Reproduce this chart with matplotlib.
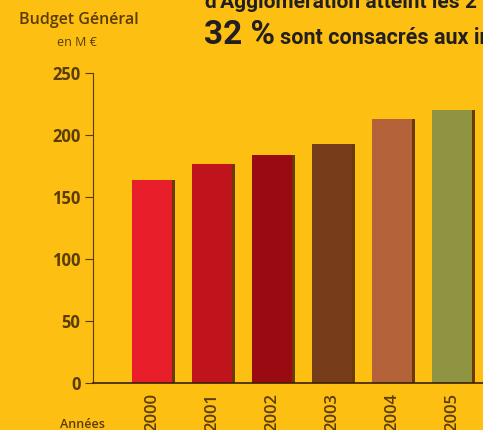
import matplotlib.pyplot as plt
import numpy as np

# budget general, en millions d'euros
years = ["2000", "2001", "2002", "2003", "2004", "2005"]
budget = [164, 177, 184, 193, 213, 220]
bar_colors = ["#e81e2a", "#bf141c", "#9a0a12", "#773d1a", "#b3623a", "#8e9442"]

bg = "#fcbf12"
brown = "#5a3c05"
head_font = ["Roboto", "DejaVu Sans"]

fig = plt.figure(figsize=(4.83, 4.3), dpi=100)
fig.patch.set_facecolor(bg)

ax = fig.add_axes([93 / 483, 47 / 430, 390 / 483, 310 / 430])
ax.set_facecolor(bg)

x = np.arange(len(years))
# drop shadow behind each bar
ax.bar(x + 0.05, budget, width=0.67, color="#6a3a05", zorder=1)
ax.bar(x, budget, width=0.67, color=bar_colors, zorder=2)

ax.set_xlim(-0.983, 5.517)
ax.set_ylim(0, 250)
ax.set_yticks([0, 50, 100, 150, 200, 250])
ax.set_yticklabels(["0", "50", "100", "150", "200", "250"], color=brown,
                   fontsize=12, fontweight="bold", family="Open Sans")
ax.tick_params(axis="y", direction="out", length=6, width=0.8, color=brown, pad=3)
ax.set_xticks(x)
ax.set_xticklabels(years, rotation=90, color=brown, fontsize=12,
                   fontweight="semibold", family="Open Sans", va="top")
ax.tick_params(axis="x", length=0, pad=7)

for s in ["top", "right"]:
    ax.spines[s].set_visible(False)
ax.spines["left"].set_color(brown)
ax.spines["left"].set_linewidth(0.8)
ax.spines["bottom"].set_color("#3a2000")
ax.spines["bottom"].set_linewidth(1.2)

fig.text(79 / 483, 1 - 20 / 430, "Budget Général", ha="center", va="center",
         color=brown, fontsize=11.5, fontweight="semibold", family="Open Sans")
fig.text(77 / 483, 1 - 42 / 430, "en M €", ha="center", va="center",
         color=brown, fontsize=9, family="Open Sans")
fig.text(82 / 483, 1 - 425 / 430, "Années", ha="center", va="center",
         color=brown, fontsize=9, fontweight="semibold", family="Open Sans")

fig.text(205 / 483, 1 - 8 / 430, "d'Agglomération atteint les 2", ha="left",
         va="baseline", color="#231f20", fontsize=15, fontweight="bold",
         family=head_font)
fig.text(204 / 483, 1 - 44 / 430, "32 %", ha="left", va="baseline",
         color="#231f20", fontsize=24, fontweight="bold", family=head_font)
fig.text(280 / 483, 1 - 44 / 430, "sont consacrés aux investissements",
         ha="left", va="baseline", color="#231f20", fontsize=15.5,
         fontweight="bold", family=head_font)

fig.savefig("out.png", dpi=100, facecolor=bg)
